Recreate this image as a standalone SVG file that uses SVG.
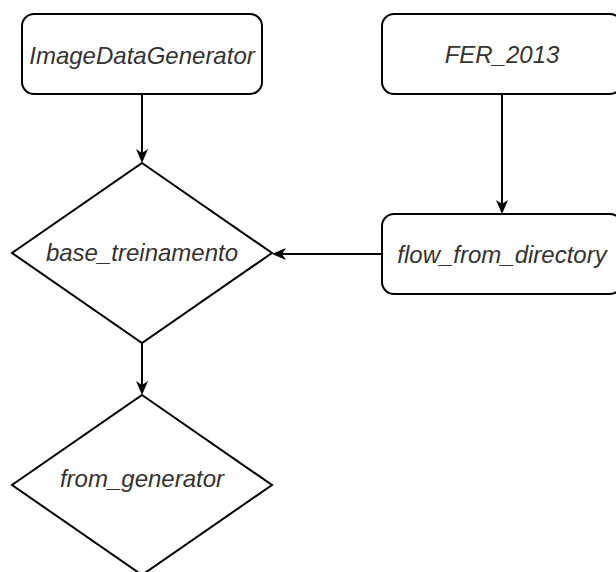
<svg xmlns="http://www.w3.org/2000/svg" width="616" height="572" viewBox="0 0 616 572">
  <style>
    .box { fill: #ffffff; stroke: #000000; stroke-width: 2; }
    .lbl { font-family: "Liberation Sans", Arial, sans-serif; font-size: 24px; font-style: italic; fill: #333333; text-anchor: middle; }
    .edge { fill: none; stroke: #000000; stroke-width: 2; marker-end: url(#arrow); }
  </style>
  <defs>
    <marker id="arrow" markerUnits="userSpaceOnUse" viewBox="0 0 14 12" markerWidth="14" markerHeight="12" refX="8" refY="6" orient="auto">
      <path d="M0,0 L14,6 L0,12 L4,6 Z" fill="#000000"/>
    </marker>
  </defs>
  <rect width="616" height="572" fill="#ffffff"/>
  <g id="connectors">
    <path class="edge" d="M142,94 L142,157"/>
    <path class="edge" d="M502,94 L502,208"/>
    <path class="edge" d="M382,254 L278,254"/>
    <path class="edge" d="M142,343 L142,389"/>
  </g>
  <g id="node-imagedatagenerator">
    <rect class="box" x="22" y="14" width="240" height="80" rx="12" ry="12"/>
    <text class="lbl" x="142" y="64">ImageDataGenerator</text>
  </g>
  <g id="node-fer2013">
    <rect class="box" x="382" y="14" width="240" height="80" rx="12" ry="12"/>
    <text class="lbl" x="502" y="63">FER_2013</text>
  </g>
  <g id="node-flow-from-directory">
    <rect class="box" x="382" y="214" width="240" height="80" rx="12" ry="12"/>
    <text class="lbl" x="502" y="263">flow_from_directory</text>
  </g>
  <g id="node-base-treinamento">
    <path class="box" d="M142,163 L272,253 L142,343 L12,253 Z"/>
    <text class="lbl" x="142" y="261">base_treinamento</text>
  </g>
  <g id="node-from-generator">
    <path class="box" d="M142,395 L272,485 L142,575 L12,485 Z"/>
    <text class="lbl" x="142" y="487">from_generator</text>
  </g>
</svg>
